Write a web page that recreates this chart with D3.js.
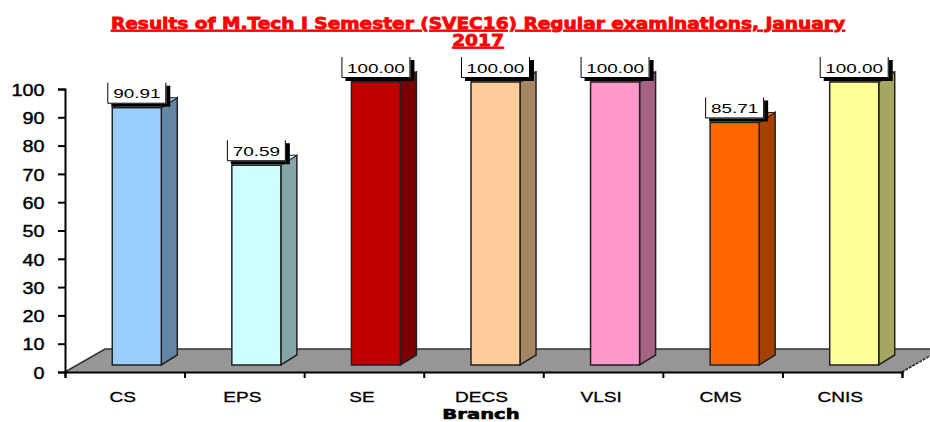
<!DOCTYPE html>
<html>
<head>
<meta charset="utf-8">
<script src="https://d3js.org/d3.v7.min.js"></script>
<style>
  html, body { margin: 0; padding: 0; background: #fff; }
  svg { display: block; }
  text { fill: #000; }
</style>
</head>
<body>
<div id="chart"></div>
<script>
const branches = ["CS", "EPS", "SE", "DECS", "VLSI", "CMS", "CNIS"]
const passPercent = [90.91, 70.59, 100.00, 100.00, 100.00, 85.71, 100.00]
const barColors = ["#99CCFF", "#CCFFFF", "#C00000", "#FFCC99", "#FF99CC", "#FF6600", "#FFFF99"]
const yTicks = [0, 10, 20, 30, 40, 50, 60, 70, 80, 90, 100]
const titleLines = ["Results of M.Tech I Semester (SVEC16) Regular examinations, January", "2017"]
const xTitle = "Branch"

const width = 930, height = 422
const margin = {top: 89, right: 28, bottom: 50, left: 65}
const plotW = width - margin.left - margin.right
const plotH = height - margin.top - margin.bottom

// fake 3d offsets, floor and bars
const floorDx = 40, floorDy = -23
const barLift = -7, barShift = 12, depthX = 16, depthY = -10

const svg = d3.select("#chart").append("svg")
  .attr("width", width)
  .attr("height", height)

const g = svg.append("g")
  .attr("transform", `translate(${margin.left},${margin.top})`)

const x = d3.scaleBand().domain(branches).range([0, plotW]).paddingInner(0.59).paddingOuter(0.295)
const edges = d3.scaleLinear().domain([0, branches.length]).range([0, plotW])
const y = d3.scaleLinear().domain([0, 100]).range([plotH, 0])

// floor
const floor = d3.path()
floor.moveTo(0, plotH)
floor.lineTo(floorDx, plotH + floorDy)
floor.lineTo(plotW + floorDx, plotH + floorDy)
floor.lineTo(plotW, plotH)
floor.closePath()
g.append("path").attr("d", floor.toString()).attr("fill", "#969696")
g.append("path")
  .attr("d", `M0,${plotH}L${floorDx},${plotH + floorDy}L${plotW + floorDx},${plotH + floorDy}`)
  .attr("fill", "none").attr("stroke", "#333").attr("stroke-width", 1.5)
g.append("path")
  .attr("d", `M${plotW},${plotH}L${plotW + floorDx},${plotH + floorDy}`)
  .attr("fill", "none").attr("stroke", "#222").attr("stroke-width", 1.5).attr("stroke-dasharray", "3,1")

// axes
const yAxis = g.append("g")
  .call(d3.axisLeft(y).tickValues(yTicks).tickSize(7).tickPadding(0))
yAxis.selectAll("path,line").attr("stroke", "#000").attr("stroke-width", 2)
yAxis.selectAll("text")
  .attr("x", -17)
  .attr("y", 1)
  .attr("transform", "scale(1.2,1)")
  .style("font", "16.5px 'Liberation Sans'")
  .attr("stroke", "#000").attr("stroke-width", 0.4)

const xEdgeAxis = g.append("g")
  .attr("transform", `translate(0,${plotH})`)
  .call(d3.axisBottom(edges).ticks(branches.length).tickSize(6).tickFormat(""))
xEdgeAxis.selectAll("path,line").attr("stroke", "#000").attr("stroke-width", 2)

const xLabels = g.append("g")
  .attr("transform", `translate(-2,${plotH})`)
  .call(d3.axisBottom(x).tickSize(0).tickPadding(0))
xLabels.select(".domain").remove()
xLabels.selectAll("text")
  .attr("y", 30)
  .attr("dy", 0)
  .attr("transform", "scale(1.23,1)")
  .style("font", "15.5px 'Liberation Sans'")
  .attr("stroke", "#000").attr("stroke-width", 0.3)

// bars
const bars = g.selectAll(".bar")
  .data(branches.map((b, i) => ({branch: b, value: passPercent[i], color: barColors[i]})))
  .enter().append("g")
  .attr("class", "bar")
  .attr("transform", d => `translate(${x(d.branch) + barShift},${barLift})`)

const bw = x.bandwidth()

bars.append("path")
  .attr("d", d => `M${bw},${y(d.value)}L${bw + depthX},${y(d.value) + depthY}L${bw + depthX},${plotH + depthY}L${bw},${plotH}Z`)
  .attr("fill", d => {
    const c = d3.rgb(d.color)
    return d3.rgb(c.r * 0.65, c.g * 0.65, c.b * 0.65)
  })
  .attr("stroke", "#222").attr("stroke-width", 1.5)

bars.append("path")
  .attr("d", d => `M0,${y(d.value)}L${depthX},${y(d.value) + depthY}L${bw + depthX},${y(d.value) + depthY}L${bw},${y(d.value)}Z`)
  .attr("fill", d => d.color)
  .attr("stroke", "#222").attr("stroke-width", 1)

bars.append("rect")
  .attr("x", 0)
  .attr("y", d => y(d.value))
  .attr("width", bw)
  .attr("height", d => plotH - y(d.value))
  .attr("fill", d => d.color)
  .attr("stroke", "#222").attr("stroke-width", 1.5)

// value labels, white box + black drop shadow
const boxH = 21
const boxW = d => d.value.toFixed(2).length * 10 + 9
const labels = bars.append("g")
  .attr("transform", d => `translate(${bw / 2 - boxW(d) / 2},${y(d.value) - boxH - 4})`)

labels.append("rect")
  .attr("x", 4).attr("y", 3)
  .attr("width", boxW).attr("height", boxH)
  .attr("fill", "#000")
labels.append("rect")
  .attr("width", boxW).attr("height", boxH)
  .attr("fill", "#fff")
labels.append("path")
  .attr("d", d => `M0.5,0V${boxH - 0.5}H${boxW(d) - 0.5}V0`)
  .attr("fill", "none").attr("stroke", "#000").attr("stroke-width", 1)
labels.append("text")
  .attr("transform", d => `translate(${boxW(d) / 2},${boxH / 2 + 5}) scale(1.4,1)`)
  .attr("text-anchor", "middle")
  .style("font", "13.5px 'Liberation Sans'")
  .attr("fill", "#111")
  .text(d => d.value.toFixed(2))

// title
svg.append("g").selectAll("text")
  .data(titleLines)
  .enter().append("text")
  .attr("transform", (d, i) => `translate(478,${29 + i * 17}) scale(1.16,1)`)
  .attr("text-anchor", "middle")
  .style("font", "900 16px 'DejaVu Sans'")
  .style("fill", "#FF0000")
  .style("text-decoration", "underline")
  .attr("stroke", "#FF0000").attr("stroke-width", 0.8)
  .text(d => d)

svg.append("text")
  .attr("transform", "translate(481,418.5) scale(1.4,1)")
  .attr("text-anchor", "middle")
  .style("font", "bold 14px 'DejaVu Sans'")
  .attr("stroke", "#000").attr("stroke-width", 0.6)
  .text(xTitle)
</script>
</body>
</html>
